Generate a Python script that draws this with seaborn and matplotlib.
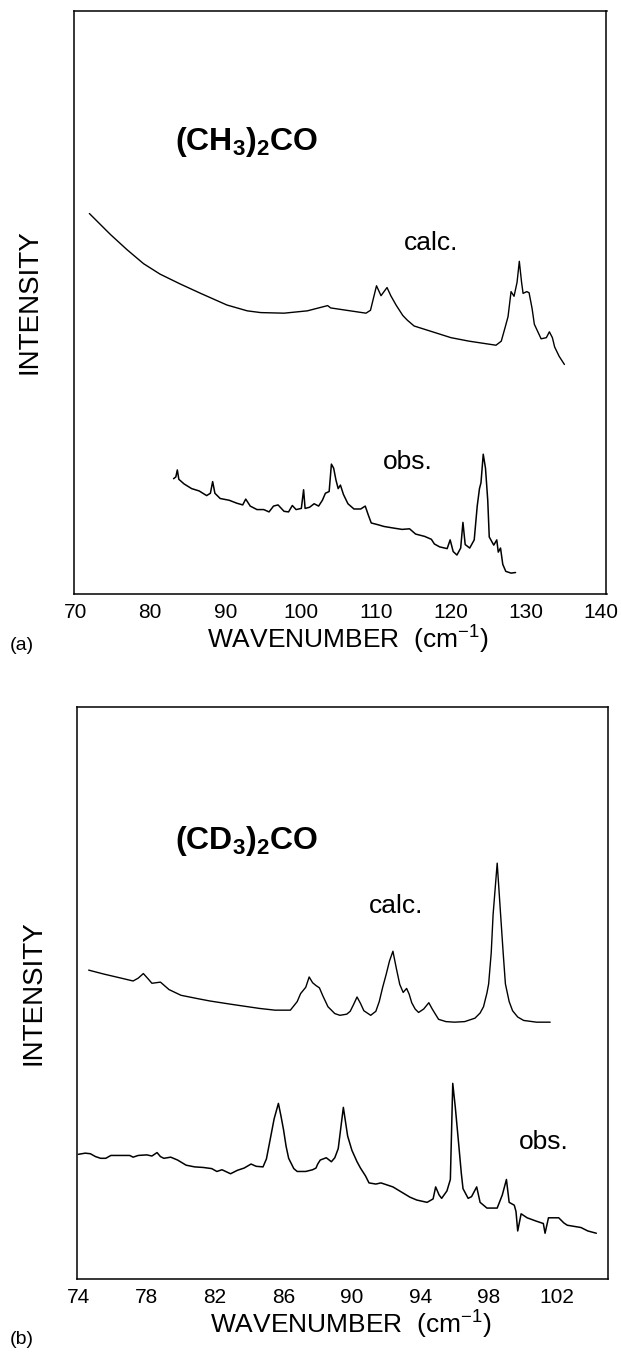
import numpy as np
import pandas as pd
import matplotlib
matplotlib.use('Agg')
import matplotlib.pyplot as plt
import seaborn as sns

# (a) (CH3)2CO  -- wavenumber (cm-1) and relative intensity
a_calc_x = [71.9, 74.7, 76.9, 79.1, 81.3, 84.0, 86.7, 90.2, 92.9, 94.7, 97.8, 100.9, 103.6, 104.0,
            108.7, 109.3, 110.1, 110.7, 111.5, 112.0, 112.7, 113.6, 114.2, 115.1, 117.8, 120.0,
            122.4, 126.0, 126.7, 127.2, 127.6, 128.0, 128.4, 128.8, 129.1, 129.4, 129.6, 130.1,
            130.4, 130.8, 131.1, 132.0, 132.7, 133.1, 133.5, 133.8, 134.4, 135.1]
a_calc_y = [0.652, 0.616, 0.590, 0.566, 0.548, 0.531, 0.515, 0.495, 0.485, 0.482, 0.481, 0.485, 0.494, 0.490,
            0.481, 0.486, 0.528, 0.511, 0.525, 0.511, 0.495, 0.477, 0.469, 0.459, 0.448, 0.439,
            0.433, 0.426, 0.433, 0.456, 0.475, 0.518, 0.510, 0.534, 0.570, 0.534, 0.515, 0.518,
            0.516, 0.489, 0.462, 0.437, 0.439, 0.449, 0.439, 0.423, 0.407, 0.393]

a_obs_x = [83.1, 83.4, 83.6, 83.8, 84.5, 85.5, 86.5, 87.5, 88.0, 88.3, 88.6, 89.3, 90.5, 91.5, 92.3,
           92.7, 93.3, 94.2, 95.1, 95.8, 96.4, 97.0, 97.8, 98.4, 98.9, 99.4, 100.1, 100.4, 100.6,
           101.2, 101.8, 102.4, 102.9, 103.3, 103.8, 104.1, 104.4, 104.7, 105.0, 105.3, 105.7,
           106.3, 107.1, 108.0, 108.6, 109.0, 109.4, 110.3, 111.1, 112.5, 113.5, 114.5, 115.3,
           116.5, 117.4, 117.8, 118.5, 119.5, 119.9, 120.3, 120.8, 121.3, 121.6, 121.9, 122.5,
           123.1, 123.5, 123.8, 124.0, 124.3, 124.6, 124.9, 125.1, 125.7, 126.1, 126.3, 126.6,
           126.9, 127.3, 128.0, 128.6]
a_obs_y = [0.197, 0.200, 0.212, 0.196, 0.188, 0.180, 0.176, 0.168, 0.172, 0.192, 0.172, 0.163, 0.160, 0.155, 0.152,
           0.162, 0.150, 0.144, 0.144, 0.140, 0.150, 0.152, 0.141, 0.140, 0.151, 0.144, 0.146, 0.178, 0.146,
           0.148, 0.154, 0.150, 0.160, 0.172, 0.175, 0.222, 0.215, 0.195, 0.180, 0.186, 0.170,
           0.154, 0.145, 0.145, 0.150, 0.135, 0.121, 0.118, 0.115, 0.112, 0.110, 0.111, 0.102,
           0.098, 0.093, 0.085, 0.080, 0.077, 0.092, 0.072, 0.066, 0.078, 0.122, 0.084, 0.078,
           0.092, 0.150, 0.180, 0.190, 0.239, 0.215, 0.160, 0.097, 0.083, 0.092, 0.071, 0.078,
           0.050, 0.038, 0.035, 0.036]

# (b) (CD3)2CO
b_calc_x = [74.6, 75.5, 76.5, 77.2, 77.5, 77.8, 78.1, 78.3, 78.8, 79.3, 80.0, 81.0, 81.7, 83.0, 84.6,
            85.5, 86.4, 86.8, 87.0, 87.3, 87.5, 87.7, 87.9, 88.1, 88.3, 88.6, 89.0, 89.3, 89.7, 89.9,
            90.1, 90.3, 90.5, 90.7, 91.1, 91.4, 91.6, 91.8, 92.0, 92.2, 92.4, 92.6, 92.8, 93.0, 93.2,
            93.35, 93.5, 93.7, 93.9, 94.2, 94.5, 94.7, 95.07, 95.5, 96.0, 96.6, 97.2, 97.5, 97.7,
            97.9, 98.0, 98.15, 98.26, 98.5, 98.7, 98.85, 98.98, 99.2, 99.4, 99.7, 100.05, 100.8, 101.6]
b_calc_y = [0.540, 0.533, 0.526, 0.521, 0.526, 0.534, 0.524, 0.517, 0.519, 0.506, 0.496, 0.490, 0.486, 0.480, 0.473,
            0.470, 0.470, 0.485, 0.499, 0.510, 0.528, 0.518, 0.513, 0.509, 0.495, 0.476, 0.464, 0.461, 0.463, 0.468,
            0.480, 0.493, 0.482, 0.469, 0.461, 0.468, 0.485, 0.510, 0.532, 0.556, 0.573, 0.543, 0.515, 0.501, 0.508,
            0.498, 0.483, 0.472, 0.466, 0.472, 0.483, 0.472, 0.454, 0.450, 0.449, 0.450, 0.456, 0.465, 0.476,
            0.500, 0.516, 0.570, 0.637, 0.727, 0.637, 0.570, 0.516, 0.485, 0.469, 0.458, 0.452, 0.449, 0.449]

b_obs_x = [74.0, 74.4, 74.7, 75.0, 75.3, 75.6, 75.9, 76.5, 77.0, 77.2, 77.5, 78.0, 78.3, 78.6, 78.8,
           79.0, 79.4, 79.8, 80.3, 80.8, 81.3, 81.8, 82.1, 82.4, 82.9, 83.3, 83.7, 84.1, 84.4, 84.8,
           85.0, 85.2, 85.45, 85.7, 85.85, 86.0, 86.15, 86.3, 86.6, 86.8, 87.3, 87.7, 87.9, 88.0,
           88.15, 88.5, 88.8, 89.0, 89.2, 89.5, 89.6, 89.75, 90.0, 90.3, 90.5, 90.8, 91.0, 91.4,
           91.7, 92.0, 92.4, 92.9, 93.4, 93.8, 94.4, 94.75, 94.9, 95.1, 95.25, 95.56, 95.76, 95.9,
           96.05, 96.25, 96.4, 96.5, 96.8, 97.0, 97.3, 97.5, 97.9, 98.5, 98.8, 99.04, 99.2, 99.5,
           99.6, 99.7, 99.9, 100.25, 100.8, 101.2, 101.3, 101.5, 102.1, 102.4, 102.6, 103.4, 103.8, 104.3]
b_obs_y = [0.218, 0.220, 0.219, 0.214, 0.211, 0.211, 0.216, 0.216, 0.216, 0.213, 0.216, 0.217, 0.215, 0.221, 0.214,
           0.211, 0.213, 0.208, 0.199, 0.196, 0.195, 0.193, 0.188, 0.191, 0.184, 0.190, 0.194, 0.201, 0.197, 0.196,
           0.210, 0.241, 0.280, 0.307, 0.285, 0.261, 0.232, 0.211, 0.193, 0.188, 0.188, 0.191, 0.194, 0.201,
           0.208, 0.212, 0.205, 0.212, 0.228, 0.300, 0.280, 0.250, 0.225, 0.205, 0.194, 0.180, 0.168, 0.166,
           0.168, 0.165, 0.161, 0.152, 0.143, 0.138, 0.134, 0.140, 0.161, 0.147, 0.141, 0.154, 0.174, 0.342,
           0.300, 0.235, 0.185, 0.158, 0.141, 0.144, 0.161, 0.134, 0.124, 0.124, 0.147, 0.174, 0.134, 0.129,
           0.118, 0.084, 0.114, 0.107, 0.101, 0.097, 0.080, 0.107, 0.107, 0.098, 0.094, 0.090, 0.084, 0.080]

a_ticks = [70, 80, 90, 100, 110, 120, 130, 140]
b_ticks = [74, 78, 82, 86, 90, 94, 98, 102]

sns.set_style('white')
plt.rcParams['font.family'] = ['Liberation Sans', 'DejaVu Sans']
plt.rcParams['mathtext.fontset'] = 'custom'
plt.rcParams['mathtext.rm'] = 'Liberation Sans'
plt.rcParams['mathtext.it'] = 'Liberation Sans:italic'
plt.rcParams['mathtext.bf'] = 'Liberation Sans:bold'
plt.rcParams['axes.edgecolor'] = 'black'
plt.rcParams['axes.linewidth'] = 1.1
plt.rcParams['text.color'] = 'black'
plt.rcParams['axes.labelcolor'] = 'black'

fig = plt.figure(figsize=(6.21, 13.54), dpi=100)
W, H = 621, 1354
ax_a = fig.add_axes([73.6 / W, 1 - 593.5 / H, (606.5 - 73.6) / W, (593.5 - 10.7) / H])
ax_b = fig.add_axes([76.7 / W, 1 - 1279 / H, (608.3 - 76.7) / W, (1279 - 707) / H])

panels = [
    (ax_a, a_calc_x, a_calc_y, a_obs_x, a_obs_y, a_ticks, (69.8, 140.7), '(a)', 645,
     r'$\mathbf{(CH_3)_2CO}$', (83.3, 0.761), (113.8, 0.59), (110.9, 0.213)),
    (ax_b, b_calc_x, b_calc_y, b_obs_x, b_obs_y, b_ticks, (73.9, 105.0), '(b)', 1340,
     r'$\mathbf{(CD_3)_2CO}$', (79.66, 0.752), (90.98, 0.640), (99.76, 0.228)),
]

for ax, cx, cy, ox, oy, ticks, xlim, tag, tag_y, formula, fpos, cpos, opos in panels:
    calc = pd.DataFrame({'wavenumber': cx, 'intensity': cy})
    obs = pd.DataFrame({'wavenumber': ox, 'intensity': oy})
    sns.lineplot(data=calc, x='wavenumber', y='intensity', ax=ax, color='black',
                 linewidth=1.0, estimator=None)
    sns.lineplot(data=obs, x='wavenumber', y='intensity', ax=ax, color='black',
                 linewidth=1.1, estimator=None)
    ax.set_xlim(*xlim)
    ax.set_ylim(0, 1)
    ax.set_xticks(ticks)
    ax.set_yticks([])
    ax.tick_params(axis='x', direction='inout', length=7, width=1.0, pad=3,
                   labelsize=15, colors='black')
    for s in ax.spines.values():
        s.set_visible(True)
        s.set_color('black')
    ax.set_xlabel('WAVENUMBER  (cm$^{-1}$)', fontsize=19, va='center')
    ax.xaxis.set_label_coords(0.515, -0.08)
    ax.set_ylabel('INTENSITY', fontsize=20, va='center')
    ax.yaxis.set_label_coords(-0.082, 0.5)
    ax.text(*fpos, formula, fontsize=23, ha='left', va='baseline')
    ax.text(*cpos, 'calc.', fontsize=19, ha='left', va='baseline')
    ax.text(*opos, 'obs.', fontsize=19, ha='left', va='baseline')
    fig.text(22 / W, 1 - tag_y / H, tag, fontsize=14, ha='center', va='center')

fig.savefig('out.png', dpi=100)
